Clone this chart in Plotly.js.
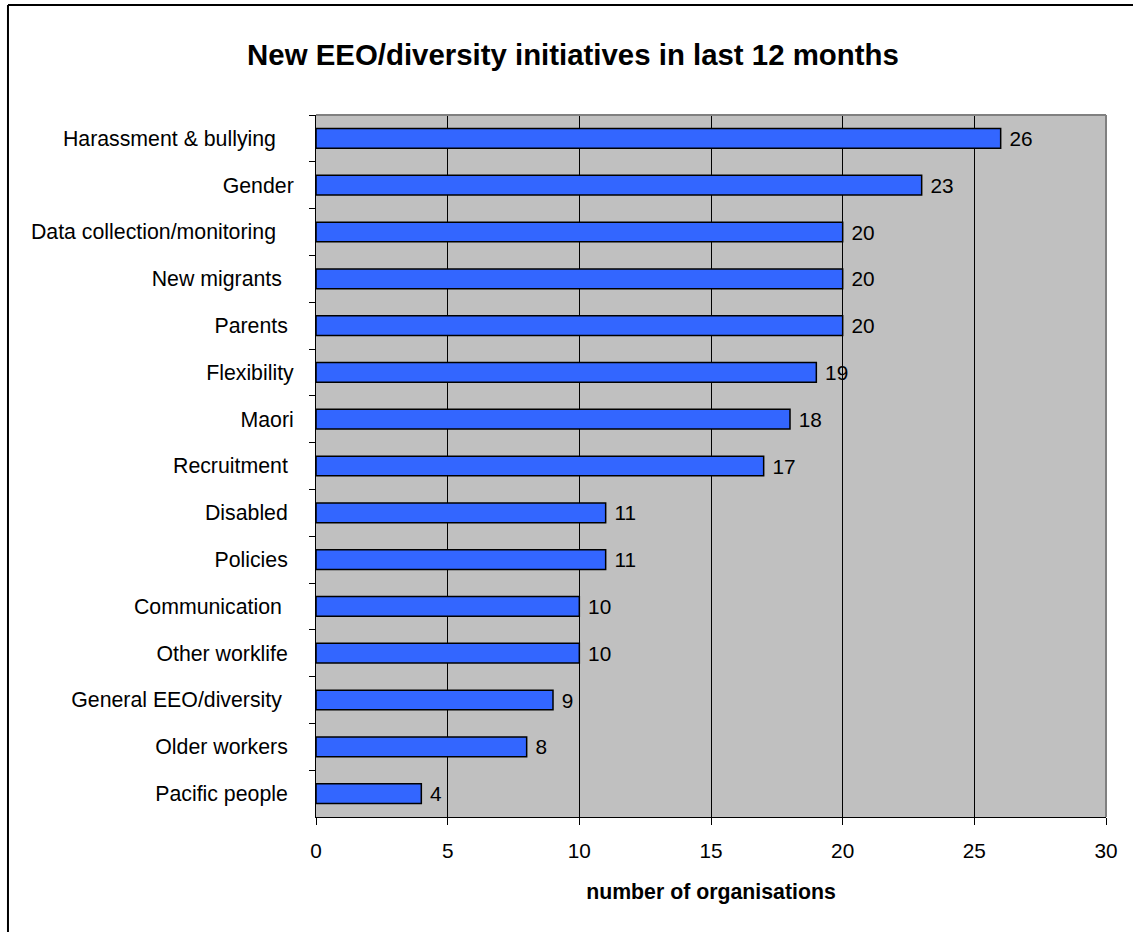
<!DOCTYPE html>
<html>
<head>
<meta charset="utf-8">
<script src="https://cdn.plot.ly/plotly-3.0.1.min.js"></script>
<style>
  html, body { margin: 0; padding: 0; background: #ffffff; }
  #chart { width: 1133px; height: 932px; }
</style>
</head>
<body>
<div id="chart"></div>
<script>
// Initiative categories (top to bottom), trailing padding as in the source labels
const categories = [
  "Harassment & bullying\u00a0\u00a0\u00a0",
  "Gender",
  "Data collection/monitoring\u00a0\u00a0\u00a0",
  "New migrants\u00a0\u00a0",
  "Parents\u00a0",
  "Flexibility",
  "Maori",
  "Recruitment\u00a0",
  "Disabled\u00a0",
  "Policies\u00a0",
  "Communication\u00a0\u00a0",
  "Other worklife\u00a0",
  "General EEO/diversity\u00a0\u00a0",
  "Older workers\u00a0",
  "Pacific people\u00a0"
];

// Number of organisations reporting each initiative
const organisations = [26, 23, 20, 20, 20, 19, 18, 17, 11, 11, 10, 10, 9, 8, 4];

// X axis ticks
const xTicks = [0, 5, 10, 15, 20, 25, 30];

const FONT = "Arial, 'Liberation Sans', sans-serif";

const trace = {
  type: "bar",
  orientation: "h",
  y: categories,
  x: organisations,
  marker: { color: "#3366ff", line: { color: "#000000", width: 1.5 } },
  text: organisations.map(v => "\u00a0" + v),
  textposition: "outside",
  constraintext: "none",
  cliponaxis: false,
  textfont: { family: FONT, size: 20.8, color: "#000000" },
  hoverinfo: "x+y"
};

const layout = {
  width: 1133,
  height: 932,
  margin: { l: 316, r: 27, t: 115, b: 115 },
  paper_bgcolor: "#ffffff",
  plot_bgcolor: "#c0c0c0",
  bargap: 0.58,
  showlegend: false,
  font: { family: FONT, color: "#000000" },
  title: {
    text: "<b>New EEO/diversity initiatives in last 12 months</b>",
    font: { family: FONT, size: 29.4, color: "#000000" },
    xref: "container", x: 0.5057,
    yref: "container", y: 0.941,
    xanchor: "center", yanchor: "middle"
  },
  xaxis: {
    range: [0, 30],
    tickvals: xTicks,
    ticktext: xTicks.map(String),
    ticks: "outside",
    ticklen: 7,
    tickwidth: 1,
    tickcolor: "#000000",
    showgrid: true,
    gridcolor: "#000000",
    gridwidth: 1,
    zeroline: false,
    showline: true,
    linecolor: "#000000",
    linewidth: 1,
    tickfont: { family: FONT, size: 20.8, color: "#000000" },
    ticklabelstandoff: 8,
    title: {
      text: "<b>number of organisations</b>",
      font: { family: FONT, size: 21.3, color: "#000000" },
      standoff: 23
    },
    fixedrange: true
  },
  yaxis: {
    type: "category",
    autorange: "reversed",
    tickson: "boundaries",
    ticks: "outside",
    ticklen: 6,
    tickwidth: 1,
    tickcolor: "#000000",
    showgrid: false,
    zeroline: false,
    showline: true,
    linecolor: "#000000",
    linewidth: 1,
    tickfont: { family: FONT, size: 21.3, color: "#000000" },
    ticklabelstandoff: 17,
    fixedrange: true
  },
  shapes: [
    // grey frame along the top and right of the plotting area
    { type: "line", xref: "paper", yref: "paper", x0: 0, x1: 1, y0: 1, y1: 1,
      line: { color: "#808080", width: 2 }, layer: "above" },
    { type: "line", xref: "paper", yref: "paper", x0: 1, x1: 1, y0: 0, y1: 1,
      line: { color: "#808080", width: 2 }, layer: "above" },
    // outer chart border (top and left edges)
    { type: "line", xref: "paper", yref: "paper", x0: -0.3899, x1: 1.2, y0: 1.1567, y1: 1.1567,
      line: { color: "#000000", width: 2 } },
    { type: "line", xref: "paper", yref: "paper", x0: -0.3899, x1: -0.3899, y0: -0.2, y1: 1.1567,
      line: { color: "#000000", width: 2 } }
  ]
};

Plotly.newPlot("chart", [trace], layout, { displayModeBar: false, staticPlot: true });
</script>
</body>
</html>
